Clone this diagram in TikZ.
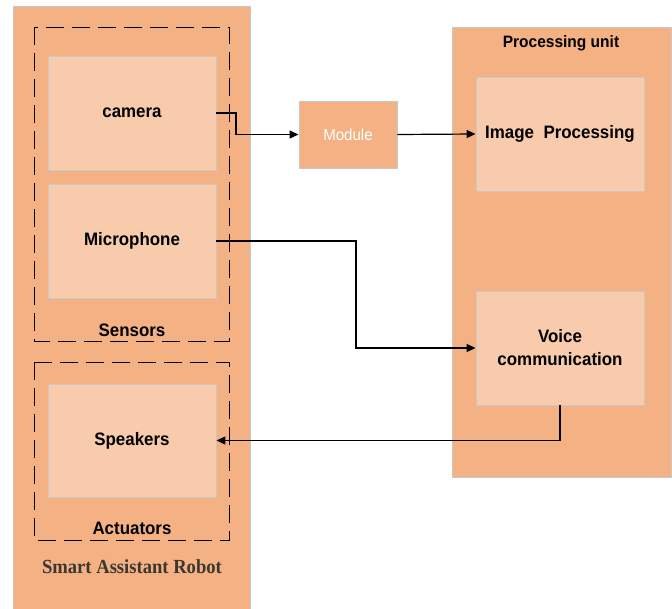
\documentclass[tikz,border=0pt]{standalone}
\usepackage{fontspec}
\setmainfont{Liberation Sans}[FakeStretch=0.94]
\newfontfamily\robotfont{Liberation Serif}[FakeStretch=0.93]
\usetikzlibrary{arrows.meta}
\definecolor{outerfill}{RGB}{244,177,131}
\definecolor{innerfill}{RGB}{248,203,173}
\definecolor{boxline}{RGB}{200,200,200}
\definecolor{robottext}{RGB}{60,55,50}
\tikzset{
  container/.style={draw=boxline, fill=outerfill, line width=0.9pt},
  partbox/.style={draw=boxline, fill=innerfill, line width=0.9pt, minimum width=168pt, minimum height=114pt, inner sep=0pt, font=\fontsize{18}{21}\selectfont\bfseries, align=center},
  groupbox/.style={draw=black, dash pattern=on 18pt off 8pt, line width=0.9pt},
  grouplabel/.style={font=\fontsize{18}{21}\selectfont\bfseries, inner sep=0pt},
  modulebox/.style={draw=boxline, fill=outerfill, line width=0.9pt, minimum width=98pt, minimum height=67pt, inner sep=0pt, text=white, font=\fontsize{16}{19}\selectfont},
  arr/.style={draw=black, line width=1.2pt, -{Triangle[length=9pt,width=8pt]}}
}
\begin{document}
\begin{tikzpicture}[x=1pt,y=-1pt]
\useasboundingbox (0,0) rectangle (672,608);
% containers
\path[container] (13,6) rectangle (250,612);
\path[container] (452,27) rectangle (671,477);
% dashed groups
\draw[groupbox] (34,27) rectangle (229,341);
\draw[groupbox] (34,362) rectangle (229,540);
% parts
\node[partbox] (cam) at (132,113) {camera};
\node[partbox] (mic) at (132,241) {Microphone};
\node[partbox, minimum height=113pt] (spk) at (132,440.5) {Speakers};
\node[partbox] (img) at (560,134) {Image~~Processing};
\node[partbox] (voice) at (560,348) {Voice\\[2pt]communication};
\node[modulebox] (mod) at (348,134.5) {Module};
% labels
\node[grouplabel] (sens) at (132,330) {Sensors};
\node[grouplabel] (act) at (132,528) {Actuators};
\node[font=\fontsize{20}{23}\selectfont\robotfont\bfseries, text=robottext, inner sep=0pt] (robot) at (132,567) {Smart Assistant Robot};
\node[font=\fontsize{16.5}{19}\selectfont\bfseries, inner sep=0pt] (pu) at (561,43) {Processing unit};
% connectors
\coordinate (cbend) at (236,113);
\coordinate (mbend) at (356,241);
\draw[arr] (cam.east) -- (cbend) |- (mod.west);
\draw[arr] (mod.east) -- (img.west);
\draw[arr] (mic.east) -- (mbend) |- (voice.west);
\draw[arr] (voice.south) |- (spk.east);
\end{tikzpicture}
\end{document}
